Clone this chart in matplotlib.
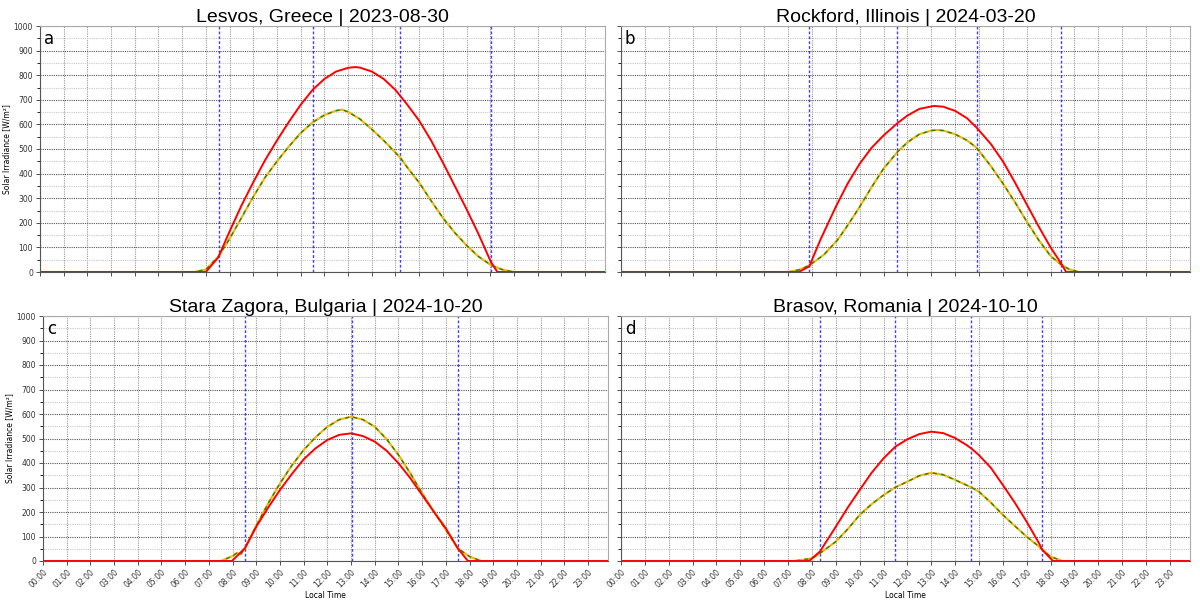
import matplotlib
matplotlib.use('Agg')
import matplotlib.pyplot as plt
from matplotlib.ticker import MultipleLocator

titles = ['Lesvos, Greece | 2023-08-30', 'Rockford, Illinois | 2024-03-20',
          'Stara Zagora, Bulgaria | 2024-10-20', 'Brasov, Romania | 2024-10-10']
letters = ['a', 'b', 'c', 'd']
hour_labels = ['%02d:00' % h for h in range(24)]

# a - Lesvos
clear_t_a = [0, 7.0, 7.52, 8.0, 8.5, 9.0, 9.5, 10.0, 10.5, 11.0, 11.5, 12.0, 12.5, 13.0, 13.3, 13.5,
             14.0, 14.5, 15.0, 15.2, 15.5, 16.0, 16.5, 17.0, 17.5, 18.0, 18.5, 19.03, 19.3, 23.84]
clear_a = [0, 0, 59, 165, 270, 365, 455, 535, 610, 680, 740, 785, 815, 830, 833, 831,
           815, 785, 740, 716, 680, 615, 535, 445, 350, 255, 155, 40, 0, 0]
meas_t_a = [0, 6.5, 7.0, 7.52, 8.0, 8.5, 9.0, 9.5, 10.0, 10.5, 11.0, 11.5, 12.0, 12.5, 12.75, 13.0,
            13.5, 14.0, 14.5, 15.0, 15.2, 15.5, 16.0, 16.5, 17.0, 17.5, 18.0, 18.5, 19.03, 19.5, 20.0, 23.84]
meas_a = [0, 0, 10, 62, 135, 220, 306, 385, 450, 510, 565, 608, 638, 656, 660, 651,
          622, 580, 535, 485, 465, 425, 363, 290, 220, 160, 108, 63, 28, 10, 0, 0]
blue_a = [7.55, 11.5, 15.2, 19.03]

# b - Rockford
clear_t_b = [0, 7.45, 7.89, 8.35, 9.0, 9.5, 10.0, 10.5, 11.0, 11.57, 12.0, 12.5, 13.1, 13.5,
             14.0, 14.5, 14.9, 15.5, 16.0, 16.5, 17.0, 17.5, 18.0, 18.44, 18.65, 23.84]
clear_b = [0, 0, 23, 130, 265, 360, 440, 505, 555, 604, 636, 663, 675, 672,
           655, 625, 587, 520, 450, 365, 275, 185, 100, 35, 0, 0]
meas_t_b = [0, 7.03, 7.5, 7.89, 8.5, 9.07, 9.5, 10.0, 10.5, 11.0, 11.6, 12.0, 12.5, 13.0, 13.25,
            13.5, 14.0, 14.5, 14.9, 15.5, 16.0, 16.5, 17.0, 17.5, 18.0, 18.44, 18.8, 19.2, 23.84]
meas_b = [0, 0, 10, 27, 70, 130, 190, 265, 345, 420, 490, 527, 560, 575, 577,
          575, 560, 535, 505, 430, 360, 285, 205, 130, 65, 30, 10, 0, 0]
blue_b = [7.89, 11.57, 14.9, 18.44]

# c - Stara Zagora
clear_t_c = [0, 7.97, 8.52, 9.0, 9.5, 10.0, 10.5, 11.0, 11.5, 12.0, 12.5, 13.0, 13.5, 14.0,
             14.5, 15.0, 15.5, 16.0, 16.5, 17.0, 17.5, 17.93, 23.84]
clear_c = [0, 0, 52, 140, 218, 290, 355, 415, 460, 494, 515, 521, 510, 487,
           450, 399, 338, 269, 200, 133, 52, 0, 0]
meas_t_c = [0, 7.5, 8.0, 8.18, 8.35, 8.52, 9.0, 9.5, 10.0, 10.5, 11.0, 11.5, 12.0, 12.5, 13.0,
            13.5, 14.0, 14.5, 15.0, 15.5, 16.0, 16.5, 17.0, 17.5, 18.0, 18.5, 23.84]
meas_c = [0, 0, 20, 33, 28, 52, 145, 235, 317, 390, 453, 505, 548, 577, 589,
          577, 548, 497, 433, 358, 276, 200, 127, 52, 18, 0, 0]
blue_c = [8.52, 13.02, 17.5]

# d - Brasov
clear_t_d = [0, 7.88, 8.33, 9.0, 9.5, 10.0, 10.5, 11.0, 11.5, 12.0, 12.5, 13.0, 13.5, 14.0,
             14.5, 14.67, 15.0, 15.5, 16.0, 16.5, 17.0, 17.5, 17.66, 18.1, 23.84]
clear_d = [0, 0, 38, 140, 218, 290, 360, 419, 467, 497, 518, 528, 522, 502,
           472, 460, 432, 380, 310, 238, 160, 75, 45, 0, 0]
meas_t_d = [0, 7.2, 7.5, 8.0, 8.33, 9.0, 9.5, 10.0, 10.5, 11.0, 11.5, 12.0, 12.5, 13.0, 13.5,
            14.0, 14.67, 15.0, 15.5, 16.0, 16.5, 17.0, 17.5, 17.66, 18.0, 18.5, 23.84]
meas_d = [0, 0, 3, 11, 31, 79, 130, 188, 232, 269, 301, 324, 348, 360, 352,
          331, 301, 283, 238, 188, 143, 99, 60, 45, 18, 0, 0]
blue_d = [8.33, 11.5, 14.67, 17.66]

panels = [
    (clear_t_a, clear_a, meas_t_a, meas_a, blue_a),
    (clear_t_b, clear_b, meas_t_b, meas_b, blue_b),
    (clear_t_c, clear_c, meas_t_c, meas_c, blue_c),
    (clear_t_d, clear_d, meas_t_d, meas_d, blue_d),
]

fig = plt.figure(figsize=(12, 6.07), dpi=100)
positions = [
    [40 / 1200, 335 / 607, 565 / 1200, 246 / 607],
    [621 / 1200, 335 / 607, 569 / 1200, 246 / 607],
    [43 / 1200, 46 / 607, 565 / 1200, 245 / 607],
    [621 / 1200, 46 / 607, 569 / 1200, 245 / 607],
]

for i, (ct, cv, mt, mv, blues) in enumerate(panels):
    ax = fig.add_axes(positions[i])
    ax.set_xlim(0, 23.84)
    ax.set_ylim(0, 1000)

    ax.xaxis.set_major_locator(MultipleLocator(1))
    ax.yaxis.set_major_locator(MultipleLocator(100))
    ax.yaxis.set_minor_locator(MultipleLocator(50))
    ax.grid(which='major', axis='x', color='#9a9a9a', ls=(0, (1, 1)), lw=0.8)
    ax.grid(which='major', axis='y', color='#555555', ls=(0, (1, 1)), lw=0.8)
    ax.grid(which='minor', axis='y', color='#c8c8c8', ls=(0, (1, 1)), lw=0.8)
    ax.set_axisbelow(True)

    for b in blues:
        ax.axvline(b, color='#2020ff', ls=(0, (2, 1.5)), lw=1.0, alpha=0.85)

    ax.plot(mt, mv, color='#ffb000', lw=1.5)
    ax.plot(mt, mv, color='#1a8a1a', lw=1.0, ls=(0, (3, 3)))
    ax.plot(ct, cv, color='#ff0000', lw=1.4)

    ax.set_xticks(range(24))
    ax.tick_params(axis='both', labelsize=5.5, length=3, width=0.6, colors='#333333', pad=2)
    ax.tick_params(axis='y', which='minor', length=2, width=0.6)
    if i < 2:
        ax.set_xticklabels([])
    else:
        ax.set_xticklabels(hour_labels, rotation=45, ha='right', rotation_mode='anchor')
        ax.set_xlabel('Local Time', fontsize=5.5, labelpad=1)
    if i % 2 == 1:
        ax.set_yticklabels([])
    else:
        ax.set_ylabel('Solar Irradiance [W/m²]', fontsize=5.5, labelpad=2)

    for side in ['left', 'bottom']:
        ax.spines[side].set_color('#555555')
    for side in ['top', 'right']:
        ax.spines[side].set_color('#aaaaaa')

    ax.text(0.007, 0.985, letters[i], transform=ax.transAxes, va='top', ha='left', fontsize=12)
    ax.set_title(titles[i], fontsize=14, family='Liberation Sans', pad=3)

fig.savefig('out.png', dpi=100)
